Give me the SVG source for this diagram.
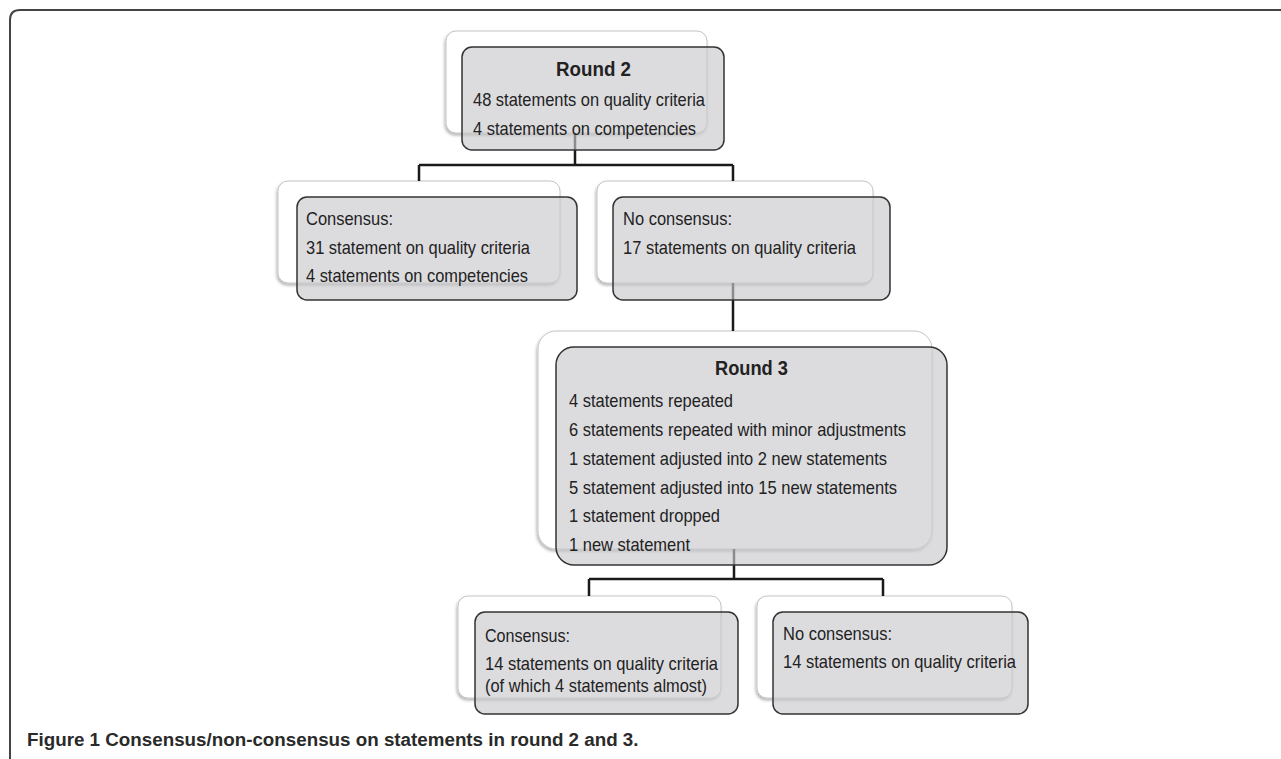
<svg xmlns="http://www.w3.org/2000/svg" width="1281" height="759" viewBox="0 0 1281 759">
<defs>
<filter id="sh" x="-10%" y="-10%" width="120%" height="130%">
<feDropShadow dx="-1" dy="2" stdDeviation="1.5" flood-color="#000" flood-opacity="0.3"/>
</filter>
</defs>
<style>
.back{fill:#fff;stroke:#c4c4c4;stroke-width:1;filter:url(#sh)}
.front{fill:#c9cace;fill-opacity:0.65;stroke:#333;stroke-width:1.5}
.t{font-family:"Liberation Sans",Arial,sans-serif;font-size:18.5px;fill:#222}
.h{font-family:"Liberation Sans",Arial,sans-serif;font-size:21px;font-weight:bold;fill:#222;text-anchor:middle}
.conn{fill:none;stroke:#1a1a1a;stroke-width:2.5}
.frame{fill:none;stroke:#444;stroke-width:2}
.cap{font-family:"Liberation Sans",Arial,sans-serif;font-size:18.8px;font-weight:bold;fill:#2a2a2a}
</style>
<rect width="1281" height="759" fill="#fff"/>
<path class="frame" d="M10,759 V20 Q10,10 20,10 H1281"/>

<g id="backs">
<rect class="back" x="446" y="31" width="261" height="102" rx="10"/>
<rect class="back" x="278" y="181" width="282" height="102" rx="10"/>
<rect class="back" x="597" y="181" width="276" height="102" rx="10"/>
<rect class="back" x="538" y="331" width="394" height="218" rx="18"/>
<rect class="back" x="458" y="596" width="263" height="102" rx="10"/>
<rect class="back" x="757" y="596" width="255" height="102" rx="10"/>
</g>

<g id="connectors">
<path class="conn" d="M575,133 V165 M419,165 H733 M419,165 V181 M733,165 V181"/>
<path class="conn" d="M733,283 V331"/>
<path class="conn" d="M734,549 V579 M589,579 H883 M589,579 V596 M883,579 V596"/>
</g>

<g id="round2">
<rect class="front" x="462" y="47" width="262" height="103" rx="10"/>
<text class="h" x="593.5" y="76" textLength="75" lengthAdjust="spacingAndGlyphs">Round 2</text>
<text class="t" x="473" y="106" textLength="232" lengthAdjust="spacingAndGlyphs">48 statements on quality criteria</text>
<text class="t" x="473" y="135" textLength="223" lengthAdjust="spacingAndGlyphs">4 statements on competencies</text>
</g>

<g id="consensus2">
<rect class="front" x="297" y="197" width="280" height="103" rx="10"/>
<text class="t" x="306" y="225" textLength="87" lengthAdjust="spacingAndGlyphs">Consensus:</text>
<text class="t" x="306" y="254" textLength="224" lengthAdjust="spacingAndGlyphs">31 statement on quality criteria</text>
<text class="t" x="306" y="282" textLength="222" lengthAdjust="spacingAndGlyphs">4 statements on competencies</text>
</g>

<g id="noconsensus2">
<rect class="front" x="613" y="197" width="277" height="103" rx="10"/>
<text class="t" x="623" y="225" textLength="109" lengthAdjust="spacingAndGlyphs">No consensus:</text>
<text class="t" x="623" y="254" textLength="233" lengthAdjust="spacingAndGlyphs">17 statements on quality criteria</text>
</g>

<g id="round3">
<rect class="front" x="556" y="347" width="391" height="218" rx="18"/>
<text class="h" x="751.5" y="375" textLength="73" lengthAdjust="spacingAndGlyphs">Round 3</text>
<text class="t" x="569" y="407" textLength="164" lengthAdjust="spacingAndGlyphs">4 statements repeated</text>
<text class="t" x="569" y="436" textLength="337" lengthAdjust="spacingAndGlyphs">6 statements repeated with minor adjustments</text>
<text class="t" x="569" y="465" textLength="318" lengthAdjust="spacingAndGlyphs">1 statement adjusted into 2 new statements</text>
<text class="t" x="569" y="494" textLength="328" lengthAdjust="spacingAndGlyphs">5 statement adjusted into 15 new statements</text>
<text class="t" x="569" y="522" textLength="151" lengthAdjust="spacingAndGlyphs">1 statement dropped</text>
<text class="t" x="569" y="551" textLength="121" lengthAdjust="spacingAndGlyphs">1 new statement</text>
</g>

<g id="consensus3">
<rect class="front" x="475" y="612" width="263" height="102" rx="10"/>
<text class="t" x="485" y="642" textLength="85" lengthAdjust="spacingAndGlyphs">Consensus:</text>
<text class="t" x="485" y="670" textLength="233" lengthAdjust="spacingAndGlyphs">14 statements on quality criteria</text>
<text class="t" x="485" y="692" textLength="222" lengthAdjust="spacingAndGlyphs">(of which 4 statements almost)</text>
</g>

<g id="noconsensus3">
<rect class="front" x="773" y="612" width="255" height="102" rx="10"/>
<text class="t" x="783" y="640" textLength="109" lengthAdjust="spacingAndGlyphs">No consensus:</text>
<text class="t" x="783" y="668" textLength="233" lengthAdjust="spacingAndGlyphs">14 statements on quality criteria</text>
</g>

<text class="cap" x="27" y="746"><tspan>Figure 1</tspan> Consensus/non-consensus on statements in round 2 and 3.</text>
</svg>
